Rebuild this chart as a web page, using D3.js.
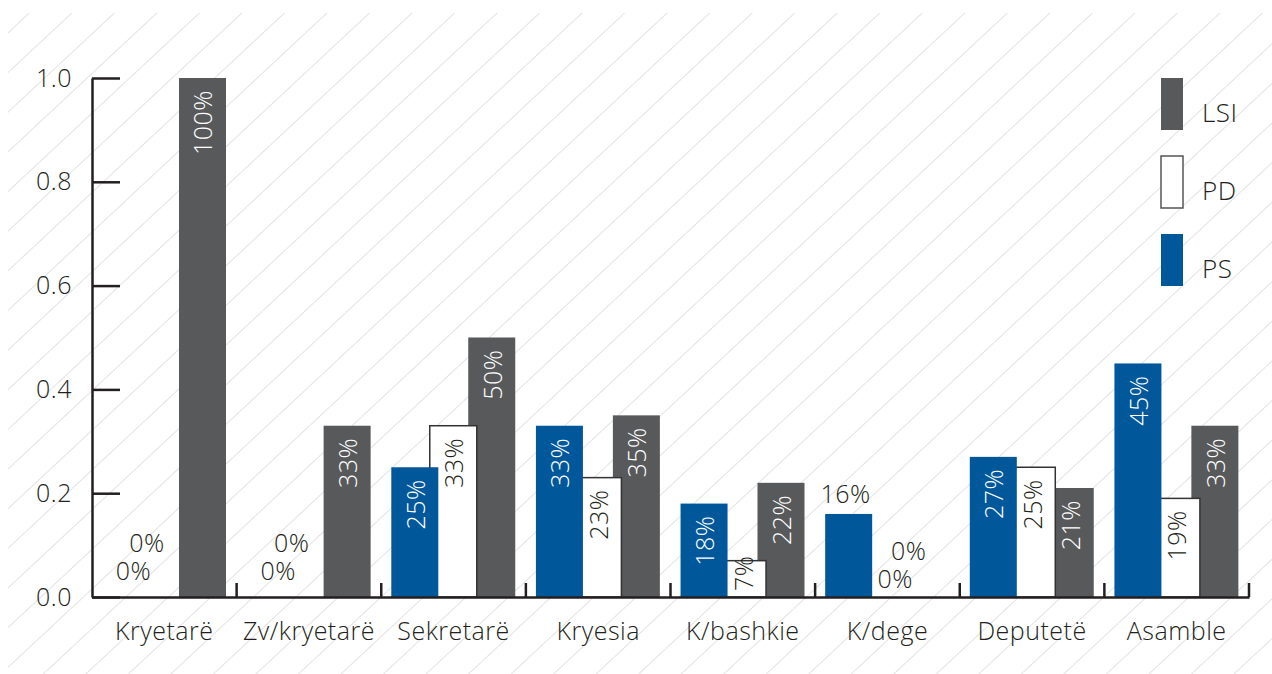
<!DOCTYPE html>
<html>
<head>
<meta charset="utf-8">
<script src="https://cdn.jsdelivr.net/npm/d3@7"></script>
<style>
  body { margin: 0; background: #fff; }
  svg text { font-family: "Open Sans", Lato, sans-serif; font-weight: 300; fill: #231f20; letter-spacing: 0.5px; }
</style>
</head>
<body>
<script>
let categories = ["Kryetarë", "Zv/kryetarë", "Sekretarë", "Kryesia", "K/bashkie", "K/dege", "Deputetë", "Asamble"];
let seriesNames = ["PS", "PD", "LSI"];
let valuesPS  = [0, 0, 0.25, 0.33, 0.18, 0.16, 0.27, 0.45];
let valuesPD  = [0, 0, 0.33, 0.23, 0.07, 0, 0.25, 0.19];
let valuesLSI = [1.00, 0.33, 0.50, 0.35, 0.22, 0, 0.21, 0.33];
let yTicks = [0, 0.2, 0.4, 0.6, 0.8, 1.0];
let legendOrder = ["LSI", "PD", "PS"];

let seriesValues = {PS: valuesPS, PD: valuesPD, LSI: valuesLSI};
let fills = {PS: "#00589b", PD: "#ffffff", LSI: "#58595b"};
let labelColor = {PS: "#ffffff", PD: "#231f20", LSI: "#ffffff"};

let width = 1272, height = 674;
let plotLeft = 92, plotRight = 1249, plotTop = 78, plotBottom = 597;
let fontSize = 25;

let svg = d3.select("body").append("svg").attr("width", width).attr("height", height);

// diagonal hatch background
let defs = svg.append("defs");
defs.append("pattern")
	.attr("id", "hatch")
	.attr("patternUnits", "userSpaceOnUse")
	.attr("width", 29).attr("height", 29)
	.attr("patternTransform", "rotate(47)")
	.append("line")
	.attr("x1", 0).attr("y1", 0).attr("x2", 0).attr("y2", 29)
	.attr("stroke", "#c8c8c8").attr("stroke-width", 1);
svg.append("rect").attr("x", 8).attr("y", 13).attr("width", width - 8).attr("height", height - 13)
	.attr("fill", "url(#hatch)");

let x0 = d3.scaleBand().domain(categories).range([plotLeft, plotRight]);
let bw = x0.bandwidth();
let x1 = d3.scalePoint().domain(seriesNames).range([bw * 0.232, bw * 0.764]);
let barW = bw * 0.325;
let y = d3.scaleLinear().domain([0, 1]).range([plotBottom, plotTop]);

let fmt = d3.format(".0%");

// bars, drawn LSI -> PD -> PS so each overlaps the next one
["LSI", "PD", "PS"].forEach(s => {
	svg.append("g").selectAll("rect")
		.data(categories.map((c, i) => ({c: c, v: seriesValues[s][i]})))
		.enter().append("rect")
		.attr("x", d => x0(d.c) + x1(s) - barW / 2)
		.attr("y", d => y(d.v))
		.attr("width", barW)
		.attr("height", d => plotBottom - y(d.v))
		.attr("fill", fills[s])
		.attr("stroke", s === "PD" ? "#333" : "none")
		.attr("stroke-width", 1.5)
		.style("display", d => d.v === 0 ? "none" : null);
});

// labels
let labels = svg.append("g").attr("font-size", fontSize);
categories.forEach((c, i) => {
	let zeros = seriesNames.filter(s => seriesValues[s][i] === 0);
	let shift = zeros.includes("LSI") ? 8 : 0;
	seriesNames.forEach(s => {
		let v = seriesValues[s][i];
		let cx = x0(c) + x1(s);
		if (v === 0) {
			let k = zeros.indexOf(s);
			labels.append("text")
				.attr("x", k === 0 ? cx + 8 : cx - 17)
				.attr("y", (k === 0 ? y(0) - 17 : y(0) - 45) + shift)
				.attr("text-anchor", "middle")
				.text(fmt(v));
		} else if (s === "PS" && v < 0.17) {
			labels.append("text")
				.attr("x", cx - 3)
				.attr("y", y(v) - 11)
				.attr("text-anchor", "middle")
				.text(fmt(v));
		} else {
			let short = plotBottom - y(v) < 50;
			labels.append("text")
				.attr("transform", `translate(${cx},${short ? plotBottom - 6 : y(v) + 12}) rotate(-90)`)
				.attr("text-anchor", short ? "start" : "end")
				.attr("dominant-baseline", "central")
				.style("fill", labelColor[s])
				.text(fmt(v));
		}
	});
});

// y axis
let yAxis = d3.axisLeft(y).tickValues(yTicks).tickFormat(d3.format(".1f"))
	.tickSizeInner(-28).tickSizeOuter(0).tickPadding(20);
let gy = svg.append("g").attr("transform", `translate(${plotLeft},0)`).call(yAxis);
gy.selectAll("path, line").attr("stroke", "#231f20").attr("stroke-width", 2.5);
gy.selectAll("text").attr("font-size", fontSize).attr("font-family", null);

// x axis
let xAxis = d3.axisBottom(x0).tickSize(0).tickPadding(25);
let gx = svg.append("g").attr("transform", `translate(0,${plotBottom})`).call(xAxis);
gx.select(".domain").attr("stroke", "#231f20").attr("stroke-width", 2.5);
gx.selectAll("text").attr("font-size", fontSize).attr("font-family", null);
gx.selectAll(".bound").data(categories.slice(1).map(c => x0(c)).concat([plotRight]))
	.enter().append("line").attr("class", "bound")
	.attr("x1", d => d).attr("x2", d => d)
	.attr("y1", 0).attr("y2", -14)
	.attr("stroke", "#231f20").attr("stroke-width", 2.5);

// legend
let legend = svg.append("g").attr("transform", "translate(1161,78)");
legendOrder.forEach((s, i) => {
	let g = legend.append("g").attr("transform", `translate(0,${i * 78})`);
	g.append("rect").attr("x", 0).attr("y", 0).attr("width", 22).attr("height", 52)
		.attr("fill", fills[s])
		.attr("stroke", s === "PD" ? "#555" : "none").attr("stroke-width", 1.5);
	g.append("text").attr("x", 41).attr("y", 44).attr("font-size", 26).text(s);
});
</script>
</body>
</html>
